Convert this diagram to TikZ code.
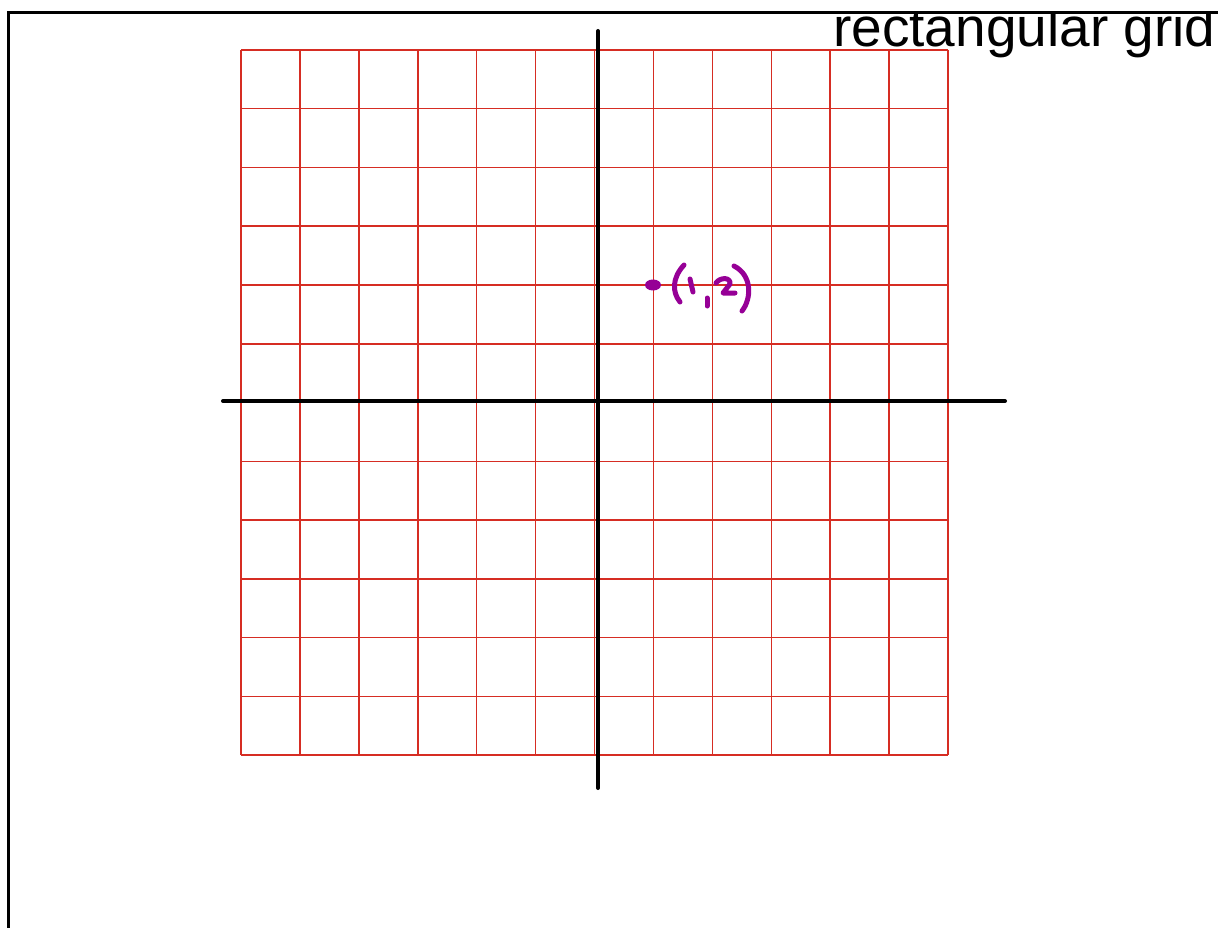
\documentclass[tikz,border=0pt]{standalone}
\usepackage{fontspec}
\setmainfont{Liberation Sans}
\definecolor{gridred}{RGB}{214,45,35}
\definecolor{penpurple}{RGB}{150,0,150}
\tikzset{
  gridline/.style={draw=gridred, line width=1.5pt},
  axisline/.style={draw=black, line width=4pt, line cap=round},
  frameline/.style={draw=black, line width=3pt},
  pen/.style={draw=penpurple, line width=5pt, line cap=round, line join=round},
  title/.style={font=\fontsize{55}{60}\selectfont, anchor=base west, inner sep=0pt}
}
\begin{document}
\begin{tikzpicture}[x=1pt,y=-1pt]
\useasboundingbox (0,0) rectangle (1218,928);
% grid
\foreach \i in {0,...,12}{
  \draw[gridline] ({241+\i*58.92},50) -- ({241+\i*58.92},755);
  \draw[gridline] (241,{50+\i*58.75}) -- (948,{50+\i*58.75});
}
% axes
\coordinate (xl) at (223,401);
\coordinate (xr) at (1005,401);
\coordinate (yt) at (598,31);
\coordinate (yb) at (598,788);
\draw[axisline] (xl) -- (xr);
\draw[axisline] (yt) -- (yb);
% title, clipped under the frame line
\begin{scope}
\clip (0,14) rectangle (1218,928);
\node[title] (title) at (833,47) {rectangular grid};
\end{scope}
% frame
\draw[frameline] (8,930) -- (8,13) -- (1220,13);
% handwritten point
\fill[penpurple] (653,285) ellipse (8 and 5.5);
\draw[pen] (684,265) .. controls (672,278) and (672,292) .. (680,302);
\draw[pen] (690,279) -- (693,292);
\draw[pen] (707,298) -- (707,306);
\draw[pen] (716,283) .. controls (720,277) and (731,277) .. (730,284) -- (723,293) -- (735,293);
\draw[pen] (734,266) .. controls (752,275) and (752,298) .. (742,311);
\end{tikzpicture}
\end{document}
